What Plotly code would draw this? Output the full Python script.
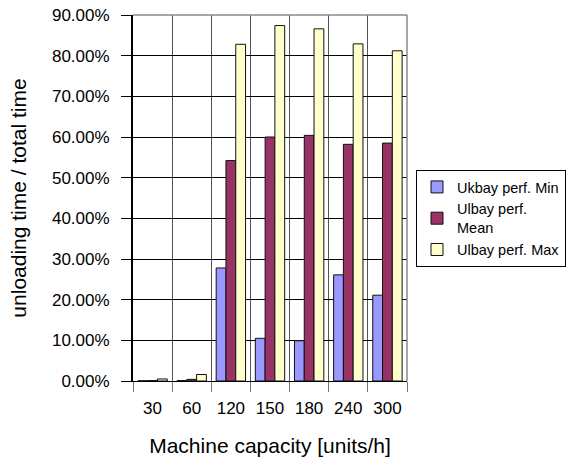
import plotly.graph_objects as go

capacities = ["30", "60", "120", "150", "180", "240", "300"]
perf_min = [0.0005, 0.001, 0.278, 0.105, 0.099, 0.261, 0.211]
perf_mean = [0.001, 0.004, 0.542, 0.600, 0.604, 0.582, 0.585]
perf_max = [0.005, 0.016, 0.828, 0.874, 0.866, 0.829, 0.812]

series_names = ["Ukbay perf. Min", "Ulbay perf.<br>Mean", "Ulbay perf. Max"]
series_colors = ["#9999FF", "#993366", "#FFFFCC"]

FONT = "Liberation Sans, Arial, sans-serif"
W, H = 575, 464

fig = go.Figure()
for name, vals, color in zip(series_names, [perf_min, perf_mean, perf_max], series_colors):
    fig.add_trace(go.Bar(
        x=capacities, y=vals, name=name,
        marker=dict(color=color, line=dict(color="#111111", width=1)),
    ))

fig.update_layout(
    width=W, height=H,
    margin=dict(l=133, r=168, t=15, b=83, autoexpand=False),
    paper_bgcolor="white", plot_bgcolor="white",
    barmode="group", bargap=0.25, bargroupgap=0,
    font=dict(family=FONT, color="black", size=16),
    showlegend=True,
    legend=dict(
        xref="container", yref="container",
        x=416 / W, xanchor="left", y=1 - 170 / H, yanchor="top",
        bordercolor="black", borderwidth=1, bgcolor="white",
        font=dict(family=FONT, size=14.5, color="black"),
        tracegroupgap=0, itemwidth=30,
    ),
)

fig.update_xaxes(
    type="category", tickson="boundaries",
    showgrid=True, gridcolor="#555555", gridwidth=1,
    ticks="outside", ticklen=10, tickcolor="#777777",
    ticklabelstandoff=12,
    showline=True, linecolor="black", linewidth=1,
    tickfont=dict(size=17),
    title=dict(text="Machine capacity [units/h]", font=dict(size=21), standoff=20),
)
fig.update_yaxes(
    range=[0, 0.9], dtick=0.1, tickformat=".2%",
    showgrid=True, gridcolor="black", gridwidth=1,
    ticks="outside", ticklen=10, tickcolor="black",
    ticklabelstandoff=8,
    showline=True, linecolor="black", linewidth=2,
    zeroline=False,
    tickfont=dict(size=17),
    title=dict(text="unloading time / total time", font=dict(size=21), standoff=20),
)

# grey frame along the top and right of the plotting area
fig.add_shape(type="line", xref="paper", yref="paper", x0=0, x1=1, y0=1, y1=1,
              line=dict(color="#888888", width=1.5), layer="above")
fig.add_shape(type="line", xref="paper", yref="paper", x0=1, x1=1, y0=0, y1=1,
              line=dict(color="#888888", width=1.5), layer="above")

fig.write_html("out.html")
